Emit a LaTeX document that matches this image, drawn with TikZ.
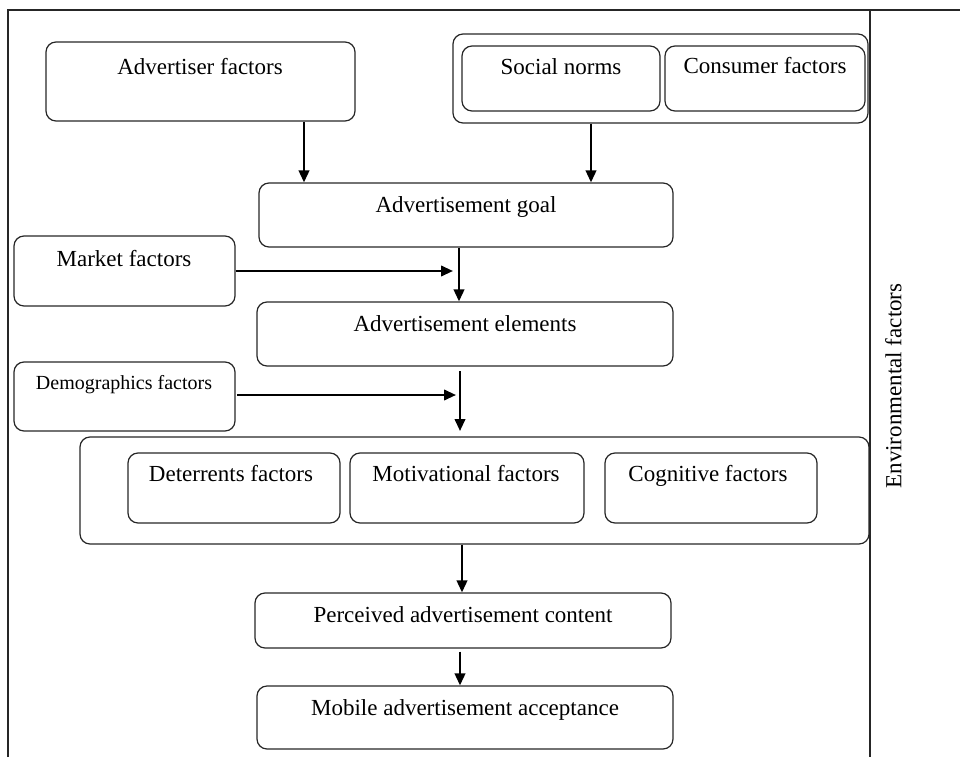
\documentclass[tikz,border=0pt]{standalone}
\usepackage{fontspec}
\setmainfont{Liberation Serif}
\usetikzlibrary{fit,arrows.meta}
\begin{document}
\begin{tikzpicture}[x=1pt,y=-1pt,
  box/.style={draw=black!85, line width=1.2pt, rounded corners=10pt, inner sep=0pt},
  lbl/.style={font=\fontsize{23}{27}\selectfont, inner sep=0pt, text height=0.68em, text depth=0.2em},
  slbl/.style={font=\fontsize{20}{24}\selectfont, inner sep=0pt, text height=0.68em, text depth=0.2em},
  arr/.style={line width=2.3pt, -{Triangle[length=12pt,width=10.5pt]}},
  frame/.style={line width=1.5pt, black!85}]
\useasboundingbox (0,0) rectangle (960,757);
% frame
\draw[frame] (8,757) -- (8,10) -- (960,10);
\draw[frame] (870,10) -- (870,757);
% boxes
\node[box, fit={(46,42) (355,121)}] (adv) {};
\node[box, fit={(453,34) (868,123)}] (grp) {};
\node[box, fit={(462,46) (660,111)}] (soc) {};
\node[box, fit={(665,46) (865,111)}] (con) {};
\node[box, fit={(259,183) (673,247)}] (goal) {};
\node[box, fit={(14,236) (235,306)}] (mkt) {};
\node[box, fit={(257,302) (673,366)}] (elem) {};
\node[box, fit={(14,362) (235,431)}] (demo) {};
\node[box, fit={(80,437) (869,544)}] (big) {};
\node[box, fit={(128,453) (340,523)}] (det) {};
\node[box, fit={(350,453) (584,523)}] (mot) {};
\node[box, fit={(605,453) (817,523)}] (cog) {};
\node[box, fit={(255,593) (671,648)}] (perc) {};
\node[box, fit={(257,686) (673,749)}] (mob) {};
% labels
\node[lbl] (tadv) at (200,72) {Advertiser factors};
\node[lbl] (tsoc) at (561,72) {Social norms};
\node[lbl] (tcon) at (765,71) {Consumer factors};
\node[lbl] (tgoal) at (466,210) {Advertisement goal};
\node[lbl] (tmkt) at (124,264) {Market factors};
\node[lbl] (telem) at (465,329) {Advertisement elements};
\node[slbl] (tdemo) at (124,387) {Demographics factors};
\node[lbl] (tdet) at (231,479) {Deterrents factors};
\node[lbl] (tmot) at (466,479) {Motivational factors};
\node[lbl] (tcog) at (708,479) {Cognitive factors};
\node[lbl] (tperc) at (463,620) {Perceived advertisement content};
\node[lbl] (tmob) at (465,713) {Mobile advertisement acceptance};
\node[lbl, rotate=90] (tenv) at (899,386) {Environmental factors};
% connector helpers
\coordinate (xa) at (304,0);
\coordinate (xs) at (591,0);
\coordinate (xg) at (459,0);
\coordinate (mkttip) at (453,271);
\coordinate (demostart) at (237,395);
\coordinate (demotip) at (456,395);
\coordinate (v2top) at (460,371);
\coordinate (v2bot) at (460,431);
\coordinate (xb) at (462,0);
\coordinate (xp) at (460,0);
% connectors
\draw[arr] (adv.south -| xa) -- (goal.north -| xa);
\draw[arr] (grp.south -| xs) -- (goal.north -| xs);
\draw[arr] (goal.south -| xg) -- (elem.north -| xg);
\draw[arr] (mkt.east) -- (mkttip);
\draw[arr] (demostart) -- (demotip);
\draw[arr] (v2top) -- (v2bot);
\draw[arr] (big.south -| xb) -- (perc.north -| xb);
\draw[arr] ([yshift=-3pt]perc.south -| xp) -- (mob.north -| xp);
\end{tikzpicture}
\end{document}
